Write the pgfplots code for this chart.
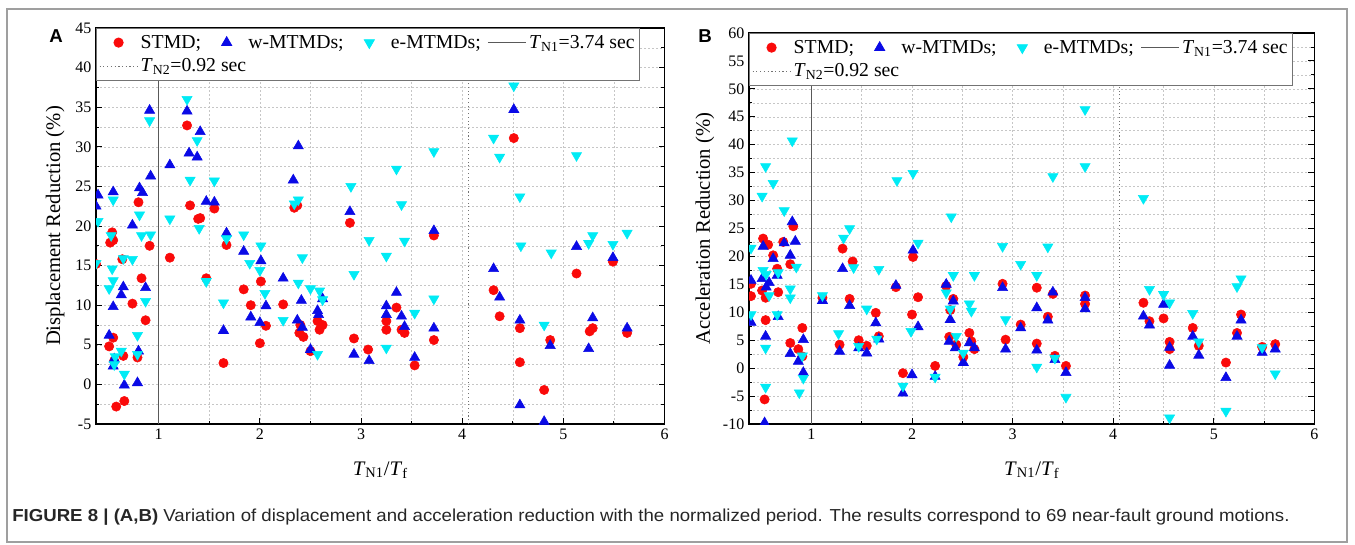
\documentclass[border=0pt]{standalone}
\usepackage{fontspec}
\setmainfont{Liberation Serif}
\newfontfamily\capfont{Liberation Sans}
\usepackage{pgfplots}
\pgfplotsset{compat=1.18}
\definecolor{mred}{RGB}{250,10,10}
\definecolor{mblue}{RGB}{10,10,230}
\definecolor{mcyan}{RGB}{0,235,245}

\pgfplotstableread{
x y
1.28 32.7
0.80 23.0
1.31 22.6
1.39 20.9
1.41 21.0
1.55 22.2
0.38 15.2
0.54 19.2
0.52 17.9
0.55 18.2
0.91 17.5
0.64 15.8
1.11 16.0
1.67 17.6
0.83 13.4
1.47 13.4
1.84 12.0
2.01 13.0
1.91 10.0
2.23 10.1
0.74 10.2
0.87 8.1
2.06 7.4
2.00 5.2
0.55 5.9
0.51 4.8
0.65 3.6
0.79 3.4
0.56 3.0
1.64 2.7
0.58 -2.8
0.66 -2.1
2.34 22.3
2.37 22.6
2.89 20.4
3.72 18.8
2.39 6.5
2.43 6.0
2.40 7.5
2.57 8.0
2.62 7.5
2.59 6.9
2.50 4.2
2.93 5.8
3.07 4.4
3.35 9.7
3.25 8.0
3.25 6.9
3.40 6.9
3.43 6.5
3.53 2.4
3.72 5.6
4.51 31.1
4.31 11.9
4.37 8.6
4.57 7.1
4.57 2.8
4.81 -0.7
4.87 5.6
5.13 14.0
5.49 15.5
5.26 6.7
5.29 7.1
5.63 6.5
}\AS

\pgfplotstableread{
x y
0.91 34.6
1.28 34.5
1.41 31.9
1.30 29.2
1.38 28.7
1.11 27.7
0.92 26.3
0.40 23.9
0.38 22.5
0.55 24.3
0.81 24.8
0.84 24.2
1.47 23.1
1.55 23.0
0.74 20.1
1.67 19.1
1.84 16.8
2.01 15.6
0.65 12.3
0.63 11.3
0.87 12.2
0.55 9.8
2.06 9.9
2.23 13.4
1.91 8.5
2.00 7.8
0.51 6.2
1.64 6.8
0.55 2.3
0.80 4.2
0.66 -0.1
0.79 0.2
0.56 3.2
2.38 30.1
2.33 25.8
2.89 21.8
3.72 19.4
2.41 10.6
2.37 8.1
2.42 7.2
2.57 9.3
2.58 8.8
2.62 10.8
2.50 4.4
3.35 11.6
3.25 9.9
3.25 8.8
3.40 8.6
3.43 7.3
2.93 3.8
3.08 3.0
3.53 3.4
3.72 7.1
4.51 34.7
4.31 14.6
4.37 11.0
4.57 8.1
4.87 4.9
5.13 17.4
5.49 16.0
5.29 8.4
5.25 4.5
5.63 7.1
4.57 -2.6
4.81 -4.7
}\AW

\pgfplotstableread{
x y
1.28 36.0
0.91 33.3
1.38 30.8
1.31 25.8
1.55 25.7
0.40 20.6
0.53 18.8
0.55 23.3
0.81 21.4
0.83 18.8
0.92 18.9
1.11 20.9
1.40 19.7
1.67 18.4
1.84 18.9
2.01 17.5
1.90 15.3
2.00 14.4
2.05 11.5
2.23 8.1
0.38 15.3
0.54 14.6
0.55 13.1
0.51 12.1
0.65 15.9
0.74 15.8
0.87 10.5
1.47 13.0
1.64 10.3
0.79 6.2
0.79 3.8
0.57 3.5
0.56 2.5
0.63 4.2
0.66 1.3
3.72 29.4
3.35 27.2
2.90 25.0
2.38 23.3
2.34 22.8
3.40 22.7
3.08 18.2
3.43 18.1
3.25 16.2
2.42 16.0
2.93 13.9
2.38 12.8
2.50 12.1
2.59 11.8
2.62 10.7
3.72 10.8
3.53 9.0
3.25 4.6
2.57 3.8
4.51 37.7
4.31 31.1
4.37 28.7
5.13 28.9
4.57 23.7
4.58 17.5
4.88 16.6
5.29 18.8
5.25 17.8
5.49 17.7
5.63 19.1
4.81 7.5
}\AE

\pgfplotstableread{
x y
0.82 25.4
0.52 23.2
0.57 22.1
0.72 22.6
0.62 20.2
0.66 17.8
0.79 18.6
1.31 21.4
1.41 19.1
0.40 15.1
0.51 13.9
0.67 13.6
0.545 12.6
0.40 12.9
2.01 19.9
1.84 14.5
2.06 12.7
1.11 12.6
1.38 12.4
0.545 8.6
0.91 7.2
1.64 9.9
2.00 9.6
0.79 4.5
0.87 3.4
0.91 2.1
1.28 4.2
1.47 5.0
1.55 4.0
1.67 5.7
1.91 -0.9
2.23 0.4
0.535 -5.6
2.34 14.7
2.41 12.4
2.38 10.4
2.37 5.6
2.44 4.2
2.51 2.0
2.57 6.3
2.59 4.8
2.62 3.4
2.90 15.1
2.93 5.1
3.08 7.8
3.24 14.4
3.24 4.4
3.35 9.2
3.40 13.3
3.42 2.2
3.53 0.4
3.72 13.0
3.72 11.5
4.30 11.7
4.36 8.4
4.50 8.9
4.56 4.7
4.56 3.4
4.79 7.2
4.85 4.0
5.12 1.0
5.23 6.3
5.27 9.6
5.48 3.8
5.61 4.3
}\BS

\pgfplotstableread{
x y
0.81 26.2
0.84 22.7
0.52 21.8
0.73 22.4
0.79 20.2
0.62 19.6
0.40 15.7
0.51 16.0
0.58 15.3
0.66 16.6
0.55 14.5
1.31 17.8
2.01 21.1
1.84 14.8
1.11 12.1
1.38 11.2
0.40 8.2
0.67 9.2
0.545 5.7
1.64 8.1
2.06 7.4
0.92 5.1
0.79 2.6
0.87 1.2
0.92 -0.8
1.28 3.0
1.47 3.6
1.55 2.7
1.67 5.2
2.00 -1.2
1.91 -4.5
2.23 -1.5
0.535 -9.8
2.34 15.0
2.41 12.0
2.38 8.7
2.37 4.8
2.43 3.6
2.51 1.0
2.57 4.5
2.62 3.6
2.90 14.4
2.93 3.4
3.08 7.2
3.24 10.8
3.24 3.2
3.35 8.6
3.40 13.6
3.42 1.5
3.53 -0.8
3.72 12.6
3.72 10.6
4.30 9.3
4.36 7.7
4.50 11.4
4.56 3.7
4.56 0.5
4.79 5.7
4.85 2.3
5.12 -1.7
5.23 5.7
5.27 8.6
5.48 2.8
5.61 3.4
}\BW

\pgfplotstableread{
x y
0.81 40.7
0.545 36.1
0.62 33.1
0.51 30.8
0.73 28.2
1.38 25.0
1.32 23.3
0.40 21.5
2.06 22.4
0.85 18.1
0.52 17.5
0.55 16.8
0.67 17.1
1.42 18.0
1.67 17.7
0.79 14.2
0.79 12.6
0.58 13.0
1.11 13.0
0.40 9.6
0.66 9.6
1.55 10.6
1.27 6.2
0.545 3.6
0.91 2.2
1.47 3.9
1.65 5.2
1.99 6.6
0.92 -1.8
0.88 -4.4
0.545 -3.4
1.85 33.6
2.01 34.9
1.91 -3.2
2.23 -1.6
3.72 46.3
3.72 36.1
3.40 34.3
2.39 27.1
2.90 21.8
3.35 21.7
3.08 18.6
2.41 16.6
2.62 16.6
3.24 16.6
2.34 13.5
2.57 11.5
2.59 10.2
2.38 10.6
2.93 8.7
2.44 5.7
2.51 2.7
3.42 1.8
3.24 0.2
3.53 -5.2
4.30 30.4
4.36 14.1
4.50 13.2
4.56 11.7
4.79 9.8
4.85 4.7
5.23 14.6
5.27 16.0
5.48 3.7
5.61 -1.0
4.56 -8.9
5.12 -7.7
}\BE

\pgfplotsset{
  myax/.style={
    scale only axis, anchor=south west,
    xmin=0.38, xmax=6, xtick={1,2,3,4,5,6}, minor x tick num=1,
    minor y tick num=1,
    tick align=inside, major tick length=4.5pt, minor tick length=2.5pt,
    grid=both,
    grid style={gray!45, line width=0.4pt, dash pattern=on 1.5pt off 1.5pt},
    axis line style={line width=0.9pt},
    tick style={black, line width=0.7pt},
    ticklabel style={font=\fontsize{12}{12}\selectfont},
    /pgf/number format/assume math mode=true,
    clip marker paths=true,
    label style={font=\fontsize{15.5}{16}\selectfont},
    xlabel={\textit{T}\textsubscript{N1}/\textit{T}\textsubscript{f}},
    xlabel style={at={(axis description cs:0.5,0)}, anchor=center, yshift=-34.5pt},
    legend image code/.code={\path[draw=none, fill=none] (0cm,0pt) -- (1cm,0pt);
      \draw[mark repeat=2,mark phase=2,##1] plot coordinates {(0cm,0cm)(0.5cm,0cm)(1cm,0cm)};},
    legend style={at={(0,1)}, anchor=north west, draw=black!55, line width=0.6pt, fill=white,
      font=\fontsize{14.8}{16}\selectfont, legend cell align=left, row sep=2.5pt,
      inner xsep=2pt, inner ysep=3pt,
      /tikz/every even column/.append style={column sep=3pt}},
    legend columns=4,
  },
  stmd/.style={only marks, mark=*, mark size=3.5pt, mark options={draw=mred, fill=mred}},
  wmt/.style={only marks, mark=triangle*, mark size=4.4pt, mark options={draw=mblue, fill=mblue}},
  emt/.style={only marks, mark=triangle*, mark size=4.4pt, mark options={draw=mcyan, fill=mcyan, rotate=180}},
  tn1/.style={black!65, line width=0.7pt},
  tn2/.style={black!55, line width=0.8pt, dotted},
}

\begin{document}
\begin{tikzpicture}[x=0.75pt,y=0.75pt]
\path (0,0) rectangle (1355,544);
\draw[gray!75, line width=1.4pt] (7,2) rectangle (1347,535);

\begin{axis}[myax, at={(72pt,90pt)}, width=426.4pt, height=297pt,
  ymin=-5, ymax=45, ytick={-5,0,...,45},
  ylabel={Displacement Reduction (\%)},
  ylabel style={at={(axis description cs:-0.072,0.5)}, anchor=center},
]
\addplot[tn1, forget plot] coordinates {(1,-5) (1,45)};
\addplot[tn2, forget plot] coordinates {(4.066,-5) (4.066,45)};
\addplot[stmd] table {\AS};
\addlegendentry{STMD;}
\addplot[wmt] table {\AW};
\addlegendentry{w-MTMDs;}
\addplot[emt] table {\AE};
\addlegendentry{e-MTMDs;}
\addlegendimage{tn1}
\addlegendentry{\textit{T}\textsubscript{N1}=3.74 sec}
\addlegendimage{tn2}
\addlegendentry{\rlap{\textit{T}\textsubscript{N2}=0.92 sec}}
\end{axis}

\begin{axis}[myax, at={(561.75pt,90pt)}, width=424.1pt, height=293.25pt,
  ymin=-10, ymax=60, ytick={-10,-5,...,60},
  ylabel={Acceleration Reduction (\%)},
  ylabel style={at={(axis description cs:-0.078,0.5)}, anchor=center},
]
\addplot[tn1, forget plot] coordinates {(1,-10) (1,60)};
\addplot[tn2, forget plot] coordinates {(4.066,-10) (4.066,60)};
\addplot[stmd] table {\BS};
\addlegendentry{STMD;}
\addplot[wmt] table {\BW};
\addlegendentry{w-MTMDs;}
\addplot[emt] table {\BE};
\addlegendentry{e-MTMDs;}
\addlegendimage{tn1}
\addlegendentry{\textit{T}\textsubscript{N1}=3.74 sec}
\addlegendimage{tn2}
\addlegendentry{\rlap{\textit{T}\textsubscript{N2}=0.92 sec}}
\end{axis}

\node[font=\capfont\bfseries\fontsize{14}{14}\selectfont] at (56,508) {A};
\node[font=\capfont\bfseries\fontsize{14}{14}\selectfont] at (705,508) {B};

\node[anchor=west, text=black!85, inner sep=0pt] at (12,27)
  {\scalebox{1.075}[1]{\capfont\fontsize{13}{14}\selectfont{\bfseries FIGURE 8 | (A,B)} Variation of displacement and acceleration reduction with the normalized period. The results correspond to 69 near-fault ground motions.}};
\end{tikzpicture}
\end{document}
